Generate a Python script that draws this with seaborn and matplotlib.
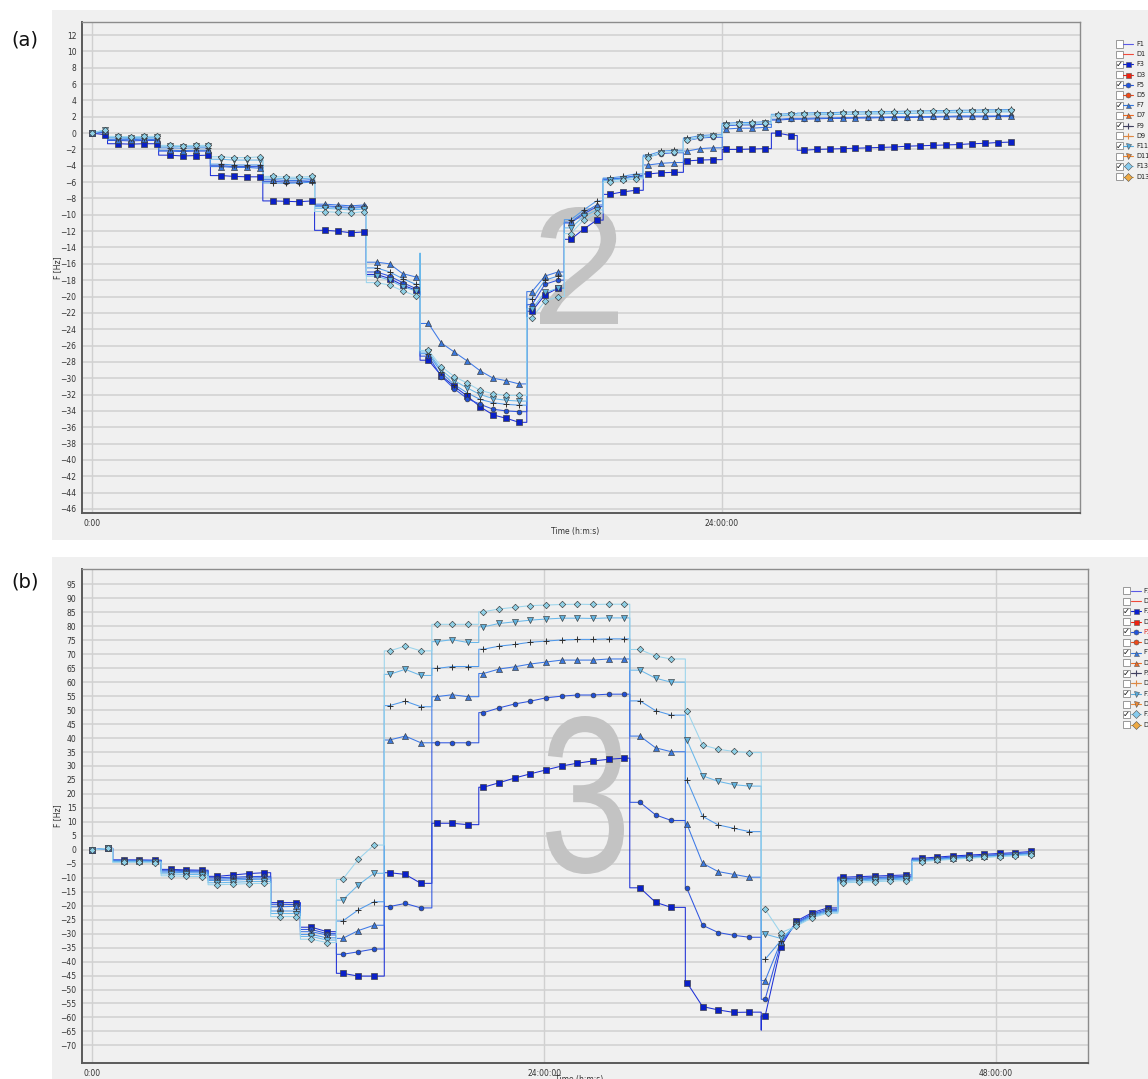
import numpy as np
import pandas as pd
import seaborn as sns
import matplotlib.pyplot as plt
from matplotlib.patches import Rectangle, PathPatch
from matplotlib.textpath import TextPath
from matplotlib.font_manager import FontProperties
from matplotlib.transforms import Affine2D
from matplotlib.ticker import FixedLocator, MultipleLocator

# ---------------- panel (a) data: logged marker values, F [Hz] ----------------
step_a = 0.493  # hours between logged markers
F3_a = [0.0, -0.2,
        -1.3, -1.35, -1.3, -1.3,
        -2.7, -2.8, -2.75, -2.7,
        -5.2, -5.3, -5.35, -5.35,
        -8.3, -8.35, -8.4, -8.3,
        -11.9, -12.0, -12.2, -12.1,
        -17.3, -17.8, -18.6, -19.2,
        -27.8, -29.7, -31.0, -32.2, -33.5, -34.5, -34.9, -35.4,
        -21.8, -19.8, -19.0,
        -13.0, -11.75, -10.65,
        -7.5, -7.2, -7.0,
        -5.0, -4.85, -4.8,
        -3.4, -3.3, -3.25,
        -2.0, -2.0, -1.95, -1.9,
        0.0, -0.3,
        -2.1, -2.0, -1.95, -1.9, -1.85, -1.8, -1.75, -1.7, -1.6, -1.55, -1.5,
        -1.45, -1.4, -1.3, -1.25, -1.15, -1.1]
F5_a = [0.0, 0.1,
        -0.9, -0.95, -0.9, -0.9,
        -2.2, -2.25, -2.2, -2.2,
        -4.0, -4.1, -4.1, -4.1,
        -5.9, -6.0, -6.0, -5.9,
        -8.9, -9.0, -9.1, -9.0,
        -17.0, -17.5, -18.3, -19.0,
        -27.3, -29.8, -31.3, -32.5, -33.2, -33.8, -34.0, -34.1,
        -21.0, -18.5, -18.0,
        -11.0, -9.9, -9.0,
        -5.7, -5.5, -5.2,
        -2.9, -2.5, -2.4,
        -0.9, -0.6, -0.5,
        0.9, 1.0, 1.0, 1.1,
        1.6, 1.7,
        1.7, 1.75, 1.8, 1.8, 1.85, 1.85, 1.9, 1.9, 1.9, 1.95, 1.95,
        2.0, 2.0, 2.0, 2.0, 2.05, 2.05]
F7_a = [0.0, 0.2,
        -0.8, -0.8, -0.75, -0.8,
        -2.1, -2.15, -2.1, -2.1,
        -4.1, -4.2, -4.2, -4.3,
        -5.7, -5.8, -5.8, -5.7,
        -8.7, -8.8, -8.9, -8.8,
        -15.8, -16.0, -17.2, -17.6,
        -23.3, -25.7, -26.8, -27.9, -29.1, -30.0, -30.3, -30.7,
        -19.4, -17.5, -17.0,
        -10.9, -9.7, -8.8,
        -5.6, -5.5, -5.3,
        -3.9, -3.7, -3.6,
        -2.2, -1.9, -1.8,
        0.5, 0.6, 0.6, 0.7,
        1.7, 1.8,
        1.8, 1.85, 1.85, 1.9, 1.9, 1.95, 1.95, 2.0, 2.0, 2.0, 2.05,
        2.05, 2.1, 2.1, 2.1, 2.1, 2.15]
F9_a = [0.0, 0.3,
        -0.6, -0.65, -0.6, -0.6,
        -1.8, -1.85, -1.8, -1.8,
        -3.8, -3.9, -3.9, -3.9,
        -6.1, -6.15, -6.1, -6.0,
        -9.0, -9.1, -9.2, -9.1,
        -16.5, -17.0, -17.8, -18.5,
        -27.0, -29.3, -30.8, -31.8, -32.6, -33.0, -33.2, -33.3,
        -20.3, -18.0, -17.5,
        -10.6, -9.4, -8.3,
        -5.5, -5.3, -5.0,
        -2.7, -2.2, -2.1,
        -0.6, -0.3, -0.2,
        1.2, 1.3, 1.3, 1.4,
        2.3, 2.4,
        2.45, 2.5, 2.5, 2.55, 2.6, 2.6, 2.65, 2.65, 2.7, 2.7, 2.75,
        2.75, 2.8, 2.8, 2.85, 2.85, 2.9]
F11_a = [0.0, 0.4,
         -0.5, -0.55, -0.5, -0.5,
         -1.6, -1.65, -1.6, -1.6,
         -3.2, -3.3, -3.3, -3.3,
         -5.5, -5.6, -5.6, -5.5,
         -9.2, -9.3, -9.4, -9.3,
         -17.5, -18.0, -18.8, -19.3,
         -26.8, -29.0, -30.3, -31.2, -32.0, -32.5, -32.7, -32.8,
         -21.5, -19.5, -19.0,
         -11.6, -10.2, -9.4,
         -5.8, -5.6, -5.4,
         -2.9, -2.4, -2.3,
         -0.8, -0.5, -0.4,
         1.0, 1.1, 1.1, 1.2,
         2.1, 2.2,
         2.2, 2.25, 2.25, 2.3, 2.3, 2.35, 2.35, 2.4, 2.4, 2.45, 2.45,
         2.5, 2.5, 2.55, 2.55, 2.6, 2.6]
F13_a = [0.0, 0.4,
         -0.4, -0.45, -0.4, -0.4,
         -1.5, -1.55, -1.5, -1.5,
         -2.9, -3.0, -3.0, -2.9,
         -5.3, -5.4, -5.4, -5.3,
         -9.6, -9.7, -9.8, -9.6,
         -18.3, -18.6, -19.3, -19.9,
         -26.6, -28.6, -29.8, -30.6, -31.5, -31.9, -32.1, -32.1,
         -22.6, -20.6, -20.0,
         -12.3, -10.6, -9.8,
         -6.0, -5.8, -5.6,
         -3.0, -2.4, -2.3,
         -0.9, -0.5, -0.4,
         1.0, 1.1, 1.2, 1.2,
         2.2, 2.3,
         2.35, 2.4, 2.4, 2.45, 2.5, 2.5, 2.55, 2.55, 2.6, 2.6, 2.65,
         2.65, 2.7, 2.7, 2.75, 2.75, 2.8]
# set-point changes, in marker-index units
jumps_a = [1.2, 5.15, 9.15, 13.2, 17.2, 21.2, 25.35, 33.6, 36.5, 39.5,
           42.6, 45.7, 48.7, 52.5, 54.5]
spikes_a = {"F11": [(25.35, -14.7)]}

# ---------------- panel (b) data ----------------
step_b = 0.831
F3_b = [0.0, 0.5,
        -3.6, -3.6, -3.7,
        -7.0, -7.2, -7.3,
        -9.5, -9.0, -8.5, -8.2,
        -18.9, -18.9,
        -27.7, -29.3,
        -44.2, -45.2, -45.2,
        -8.2, -8.8, -12.0,
        9.5, 9.5, 9.0,
        22.4, 24.0, 25.7, 27.2, 28.6, 30.0, 31.0, 31.8, 32.4, 32.8,
        -13.6, -18.8, -20.6,
        -47.5, -56.1, -57.3, -58.2, -58.1,
        -59.5, -34.7, -25.5, -22.5, -20.8,
        -9.8, -9.6, -9.4, -9.2, -9.0,
        -3.0, -2.6, -2.2, -1.9, -1.6, -1.3, -1.0, -0.6]
F5_b = [0.0, 0.5,
        -3.8, -3.8, -3.9,
        -7.3, -7.5, -7.6,
        -10.0, -9.8, -9.6, -9.5,
        -19.5, -19.6,
        -28.5, -30.0,
        -37.4, -36.5, -35.5,
        -20.3, -19.2, -20.8,
        38.3, 38.3, 38.3,
        49.1, 50.8, 52.2, 53.2, 54.4, 55.0, 55.4, 55.4, 55.7, 55.7,
        17.0, 12.5, 10.5,
        -13.8, -27.0, -29.6, -30.6, -31.3,
        -53.5, -33.5, -26.0, -23.0, -21.3,
        -10.3, -10.1, -9.9, -9.7, -9.5,
        -3.4, -3.0, -2.6, -2.3, -2.0, -1.7, -1.4, -1.0]
F7_b = [0.0, 0.5,
        -3.9, -3.9, -4.0,
        -7.6, -7.8, -7.9,
        -10.5, -10.3, -10.1, -10.0,
        -20.4, -20.2,
        -29.3, -30.5,
        -31.7, -28.9, -27.0,
        39.3, 40.7, 38.3,
        54.8, 55.5, 54.8,
        63.1, 64.7, 65.5, 66.5, 67.2, 67.9, 67.9, 67.9, 68.3, 68.3,
        40.7, 36.5, 35.1,
        9.2, -4.8, -7.8, -8.8, -9.8,
        -46.8, -33.0, -26.3, -23.3, -21.7,
        -10.6, -10.4, -10.2, -10.0, -9.8,
        -3.6, -3.2, -2.8, -2.5, -2.2, -1.9, -1.6, -1.2]
F9_b = [0.0, 0.5,
        -4.0, -4.0, -4.1,
        -8.0, -8.2, -8.3,
        -11.0, -10.8, -10.6, -10.5,
        -21.9, -21.9,
        -30.3, -31.5,
        -25.5, -21.5, -18.6,
        51.6, 53.2, 51.2,
        64.9, 65.6, 65.6,
        71.8, 72.9, 73.5, 74.3, 74.7, 75.1, 75.3, 75.3, 75.5, 75.5,
        53.3, 49.8, 48.2,
        25.0, 12.0, 8.9, 7.7, 6.5,
        -39.2, -32.5, -26.6, -23.6, -22.0,
        -10.9, -10.7, -10.5, -10.3, -10.1,
        -3.8, -3.4, -3.0, -2.7, -2.4, -2.1, -1.8, -1.4]
F11_b = [0.0, 0.5,
         -4.2, -4.2, -4.3,
         -8.6, -8.8, -8.9,
         -11.8, -11.6, -11.4, -11.3,
         -22.8, -22.8,
         -31.0, -32.3,
         -18.0, -12.6, -8.4,
         62.8, 64.6, 62.4,
         74.5, 75.2, 74.2,
         79.8, 81.0, 81.6, 82.2, 82.6, 82.9, 82.9, 82.8, 83.0, 83.0,
         64.3, 61.4, 60.0,
         39.3, 26.5, 24.5, 23.3, 22.8,
         -30.2, -31.7, -27.0, -24.0, -22.3,
         -11.3, -11.1, -10.9, -10.7, -10.5,
         -4.0, -3.6, -3.2, -2.9, -2.6, -2.3, -2.0, -1.6]
F13_b = [0.0, 0.5,
         -4.5, -4.5, -4.6,
         -9.3, -9.5, -9.6,
         -12.5, -12.3, -12.1, -12.0,
         -23.9, -23.9,
         -32.0, -33.2,
         -10.6, -3.4, 1.7,
         71.2, 72.9, 71.2,
         80.7, 80.7, 80.7,
         85.2, 86.2, 86.8, 87.4, 87.6, 87.8, 87.9, 87.8, 87.9, 87.9,
         71.7, 69.3, 68.3,
         49.8, 37.5, 36.0, 35.2, 34.8,
         -21.3, -29.7, -27.3, -24.3, -22.7,
         -11.8, -11.6, -11.4, -11.2, -11.0,
         -4.2, -3.8, -3.4, -3.0, -2.7, -2.4, -2.1, -1.8]
jumps_b = [1.3, 4.4, 7.4, 11.4, 13.3, 15.6, 18.66, 21.7, 24.7, 34.35,
           37.9, 42.75, 47.65, 52.4]
spikes_b = {"F3": [(42.75, -64.5)]}

series_a = {"F3": F3_a, "F5": F5_a, "F7": F7_a, "F9": F9_a, "F11": F11_a, "F13": F13_a}
series_b = {"F3": F3_b, "F5": F5_b, "F7": F7_b, "F9": F9_b, "F11": F11_b, "F13": F13_b}
names = ["F3", "F5", "F7", "F9", "F11", "F13"]

legend_names = ["F1", "D1", "F3", "D3", "F5", "D5", "F7", "D7",
                "F9", "D9", "F11", "D11", "F13", "D13"]
legend_checked = ["F3", "F5", "F7", "F9", "F11", "F13"]

# ---------------- styles ----------------
line_col = {"F3": "#1d2fd6", "F5": "#2f55e0", "F7": "#3c78e6", "F9": "#4f98ea",
            "F11": "#6ab8ea", "F13": "#9ad4ec"}
mk_style = {"F3": ("s", "#0a20c8", 17), "F5": ("o", "#1f4fd6", 12),
            "F7": ("^", "#3a78dc", 19), "F9": ("+", "#303030", 22),
            "F11": ("v", "#62b4e0", 19), "F13": ("D", "#8fd0e6", 11)}
leg_style = {"F1": (None, "#5a5ae6"), "D1": (None, "#f04a3a"),
             "F3": ("s", "#0a20d0"), "D3": ("s", "#ee2211"),
             "F5": ("o", "#2255dd"), "D5": ("o", "#ee4a1a"),
             "F7": ("^", "#3377dd"), "D7": ("^", "#ee6a22"),
             "F9": ("+", "#404060"), "D9": ("+", "#dd8844"),
             "F11": ("v", "#55aadd"), "D11": ("v", "#ee8833"),
             "F13": ("D", "#88ccee"), "D13": ("D", "#eeaa44")}

sns.set_style("white")
plt.rcParams["font.family"] = ["DejaVu Sans"]

W, H = 1148, 1079
fig = plt.figure(figsize=(W / 100, H / 100), dpi=100)
fig.patch.set_facecolor("white")


def px(x, y):
    return x / W, 1 - y / H


# grey panel backgrounds
for top, bot in [(10, 540), (557, 1079)]:
    fig.add_artist(Rectangle(px(52, bot), 1096 / W, (bot - top) / H,
                             transform=fig.transFigure, facecolor="#f0f0f0",
                             edgecolor="none", zorder=0))


def line_frame(step, series, jumps, spikes):
    rows = []
    for name, vals in series.items():
        pts = [(k, 0, v) for k, v in enumerate(vals)]
        for j in jumps:
            i = int(j)
            pts.append((j, 0, vals[i]))
            pts.append((j, 2, vals[i + 1]))
        for j, v in spikes.get(name, []):
            pts.append((j, 1, v))
        pts.sort(key=lambda p: (p[0], p[1]))
        rows += [{"series": name, "t": k * step, "v": v} for k, _, v in pts]
    return pd.DataFrame(rows)


def draw_panel(ax, step, series, jumps, spikes):
    df = line_frame(step, series, jumps, spikes)
    sns.lineplot(data=df, x="t", y="v", hue="series", hue_order=names,
                 palette=line_col, sort=False, estimator=None, linewidth=0.75,
                 legend=False, ax=ax, zorder=3)
    for name in names:
        vals = series[name]
        t = np.arange(len(vals)) * step
        m, c, s = mk_style[name]
        if m == "+":
            sns.scatterplot(x=t, y=vals, marker="+", color=c, s=s, linewidth=0.7,
                            ax=ax, zorder=5, legend=False)
        else:
            sns.scatterplot(x=t, y=vals, marker=m, color=c, s=s, edgecolor="#3a3a3a",
                            linewidth=0.45, ax=ax, zorder=5, legend=False)


def style_axes(ax, xlim, ylim, xmajor, xlabels, ymajor, yminor, lab_y):
    ax.set_facecolor("#f0f0f0")
    ax.set_xlim(*xlim)
    ax.set_ylim(*ylim)
    ax.xaxis.set_major_locator(FixedLocator(xmajor))
    ax.set_xticklabels(xlabels)
    ax.xaxis.set_minor_locator(MultipleLocator(6))
    ax.yaxis.set_major_locator(FixedLocator(ymajor))
    ax.yaxis.set_minor_locator(MultipleLocator(yminor))
    ax.tick_params(which="major", labelsize=5.5, labelcolor="#333333", color="#555555",
                   length=2.5, width=0.6, pad=1.5, direction="out")
    ax.tick_params(which="minor", color="#777777", length=1.3, width=0.5,
                   direction="out")
    ax.set_axisbelow(True)
    ax.yaxis.grid(True, which="major", color="#d2d2d2", linewidth=1.2)
    ax.xaxis.grid(True, which="major", color="#d0d0d0", linewidth=1.0)
    for side in ["left", "bottom"]:
        ax.spines[side].set_color("#5a5a5a")
        ax.spines[side].set_linewidth(1.4)
    for side in ["top", "right"]:
        ax.spines[side].set_color("#8c8c8c")
        ax.spines[side].set_linewidth(1.0)
    ax.set_ylabel("F [Hz]", fontsize=5.5, color="#333333")
    ax.yaxis.set_label_coords(-0.02, 0.5)
    ax.set_xlabel("Time (h:m:s)", fontsize=5.5, color="#333333")
    ax.xaxis.set_label_coords(0.494, lab_y)


def watermark(ax, ch, x0, x1, y0, y1):
    tp = TextPath((0, 0), ch, size=1, prop=FontProperties(family="Liberation Sans"))
    bb = tp.get_extents()
    sx = (x1 - x0) / bb.width / 100
    sy = (y1 - y0) / bb.height / 100
    tr = (Affine2D().translate(-bb.x0, -bb.y0).scale(sx, sy)
          .translate(x0 / 100, (H - y1) / 100))
    ax.add_patch(PathPatch(tr.transform_path(tp), transform=fig.dpi_scale_trans,
                           facecolor="#c3c3c3", edgecolor="none", zorder=1.5))


def legend_col(y0, dy, xbox, xmk, xtxt, red_item=None):
    for i, name in enumerate(legend_names):
        y = y0 + dy * i
        fig.add_artist(Rectangle(px(xbox - 3.5, y + 3.5), 7 / W, 7 / H,
                                 transform=fig.transFigure, facecolor="white",
                                 edgecolor="#8a8a8a", linewidth=0.6))
        if name in legend_checked:
            fig.text(*px(xbox, y), "\u2713", fontsize=6, ha="center", va="center",
                     color="#111111")
        m, c = leg_style[name]
        xs = [px(xmk - 5, y)[0], px(xmk + 5, y)[0]]
        ys = [px(0, y)[1]] * 2
        fig.add_artist(plt.Line2D(xs, ys, color=c, linewidth=0.8,
                                  transform=fig.transFigure))
        if m is not None:
            kw = dict(marker=m, markersize=3.6 if m != "+" else 4.5,
                      color=c, markeredgecolor="#555555" if m != "+" else c,
                      markeredgewidth=0.4 if m != "+" else 0.8, linestyle="none")
            fig.add_artist(plt.Line2D([px(xmk, 0)[0]], [px(0, y)[1]],
                                      transform=fig.transFigure, **kw))
        fig.text(*px(xtxt, y), name, fontsize=4.8, ha="left", va="center",
                 color="#e02020" if name == red_item else "#222222")


# ---------------- panel (a) ----------------
ax_a = fig.add_axes([82 / W, 1 - 513 / H, 998 / W, 491 / H])
draw_panel(ax_a, step_a, series_a, jumps_a, spikes_a)
style_axes(ax_a, (-0.381, 37.64), (-46.5, 13.6), [0, 24], ["0:00", "24:00:00"],
           np.arange(-46, 13, 2), 0.5, -0.028)
watermark(ax_a, "2", 540, 618, 207, 324)

# ---------------- panel (b) ----------------
ax_b = fig.add_axes([82 / W, 1 - 1063 / H, 1006 / W, 494 / H])
draw_panel(ax_b, step_b, series_b, jumps_b, spikes_b)
style_axes(ax_b, (-0.547, 52.88), (-76.3, 100.5), [0, 24, 48],
           ["0:00", "24:00:00", "48:00:00"], np.arange(-70, 96, 5), 1, -0.024)
watermark(ax_b, "3", 546, 624, 716, 874)

# panel letters
fig.text(*px(11, 40), "(a)", fontsize=14, ha="left", va="center", color="#111111")
fig.text(*px(11, 582), "(b)", fontsize=14, ha="left", va="center", color="#111111")

# check-box legends (right margin; the lower one runs off the edge as in the source)
legend_col(44, 10.2, 1119, 1128, 1136)
legend_col(590.7, 10.3, 1126, 1136, 1143, red_item="F5")

fig.savefig("out.png", dpi=100, facecolor="white")
